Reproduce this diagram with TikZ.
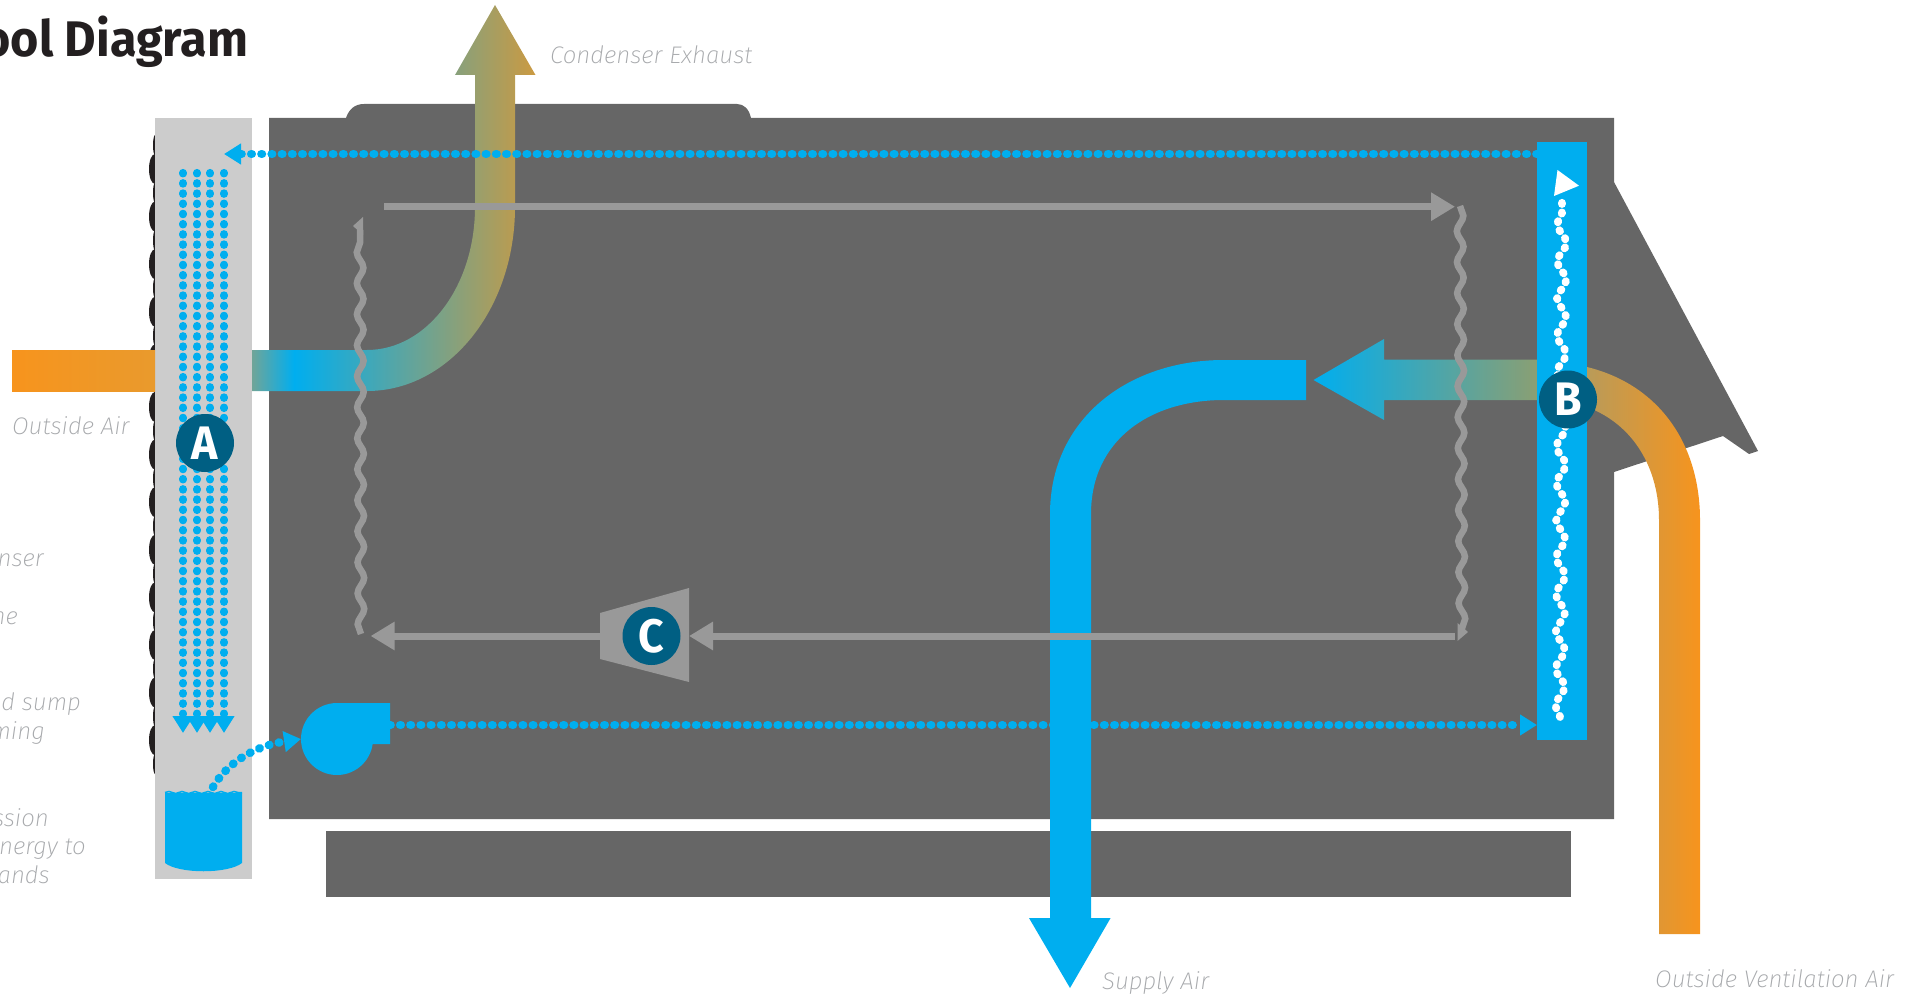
\documentclass[tikz,border=0pt]{standalone}
\usepackage{fontspec}
\setmainfont{Fira Sans}
\newfontfamily\capfont{Fira Sans ExtraLight Italic}
\newfontfamily\headfont[FakeStretch=0.97]{Fira Sans Bold}
\newfontfamily\badgefont[FakeStretch=0.95]{Fira Sans Bold}
\usepackage{tikz}
\usetikzlibrary{arrows.meta,decorations.pathmorphing}
\definecolor{unitgrey}{HTML}{666666}
\definecolor{coilgrey}{HTML}{999999}
\definecolor{padgrey}{HTML}{CCCCCC}
\definecolor{waterblue}{HTML}{00AEEF}
\definecolor{airorange}{HTML}{F7941D}
\definecolor{airorangeB}{HTML}{E99A2D}
\definecolor{badgeblue}{HTML}{005F83}
\definecolor{captiongrey}{HTML}{A7A9AC}
\definecolor{inkblack}{HTML}{231F20}
\definecolor{ductteal}{HTML}{70A598}
\definecolor{ductgold}{HTML}{CB9A42}
\definecolor{ductsage}{HTML}{8A9F73}
\definecolor{ductsand}{HTML}{B99B59}
\pgfdeclarehorizontalshading{exhaustfade}{100bp}{color(0bp)=(ductteal); color(25bp)=(ductteal); color(32.4bp)=(waterblue); color(75bp)=(ductgold); color(100bp)=(ductgold)}
\begin{document}
\begin{tikzpicture}[x=1pt,y=-1pt]
\tikzstyle{badge}=[circle,fill=badgeblue,text=white,minimum size=58pt,inner sep=0pt,font=\badgefont\fontsize{47}{47}\selectfont]
\tikzstyle{caption}=[inner sep=0pt,text=captiongrey,font=\capfont\fontsize{24}{28}\selectfont]
\tikzstyle{waterdots}=[draw=waterblue,line width=8.5pt,line cap=round,dash pattern=on 0.6pt off 9.6pt]
\tikzstyle{dropdots}=[draw=waterblue,line width=7.5pt,line cap=round,dash pattern=on 1pt off 9.2pt]
\tikzstyle{dottip}=[-{Triangle[length=17pt,width=20pt]}]
\tikzstyle{coilline}=[draw=coilgrey,line width=7pt]
\tikzstyle{cointip}=[-{Triangle[length=24pt,width=27pt]}]
\tikzstyle{coilwave}=[draw=coilgrey,line width=6.5pt,decorate,decoration={snake,amplitude=3.3pt,segment length=31pt}]
\useasboundingbox (0,0) rectangle (1920,995);

% scalloped edge behind the pad
\foreach \k in {0,...,12} {
  \fill[inkblack] (155,169+47.6*\k) ellipse (6 and 15);
  \fill[inkblack] (155,145.2+47.6*\k) ellipse (2 and 10);
}
\fill[inkblack] (155,764) ellipse (2 and 10);

% pad and unit body
\fill[padgrey] (155,118) rectangle (252,879);
\fill[unitgrey] (269,118) -- (346,118) .. controls (349,109) and (355,104) .. (364,104) -- (737,104) .. controls (744,104) and (749,109) .. (751,118) -- (1614,118) -- (1614,182) -- (1758,451) -- (1749,454) -- (1723,436) -- (1614,472) -- (1614,819) -- (269,819) -- cycle;
\fill[unitgrey] (326,831) rectangle (1571,897);

\shade[left color=airorange,right color=airorangeB] (12,350) rectangle (155,391);

% exhaust duct
\shade[shading=exhaustfade] (252,350) -- (367,350) .. controls (427,350) and (475,286) .. (475,207) -- (475,75) -- (455,75) -- (495,5) -- (535.5,75) -- (515,75) -- (515,207) .. controls (515,309) and (449,391) .. (367,391) -- (252,391) -- cycle;

% water flows
\coordinate (barTop) at (1537,154);
\coordinate (padTip) at (224,154);
\draw[waterdots,dottip] (barTop) -- (padTip);
\foreach \x in {183,197,210,224} {
  \coordinate (drop\x a) at (\x,172.7);
  \coordinate (drop\x b) at (\x,733);
  \draw[dropdots,dottip] (drop\x a) -- (drop\x b);
}
\coordinate (fanOut) at (390,725);
\coordinate (barIn) at (1537,725);
\draw[waterdots,dottip] (fanOut) -- (barIn);
\coordinate (tankOut) at (213,787);
\coordinate (fanIn) at (301,739);
\draw[waterdots,dottip] (tankOut) .. controls (228,762) and (255,746) .. (fanIn);

% sump tank
\fill[waterblue] (165,793) -- (242,793) -- (242,863) .. controls (228,874) and (179,874) .. (165,863) -- cycle;
\draw[waterblue,line width=1.5pt,decorate,decoration={snake,amplitude=1pt,segment length=13pt}] (165,792.5) -- (242,792.5);

% fan
\fill[waterblue] (337,703) -- (390,703) -- (390,744) -- (370,744) -- (337,739) -- cycle;
\fill[waterblue] (337,739) circle (36);

% supply duct
\fill[waterblue] (1306,360) -- (1224,360) .. controls (1128,360) and (1050,419) .. (1050,514) -- (1050,918) -- (1029,918) -- (1070,988) -- (1110.6,918) -- (1091,918) -- (1091,514) .. controls (1091,440) and (1150,400) .. (1224,400) -- (1306,400) -- cycle;

% return air arrow and ventilation duct
\shade[left color=waterblue,right color=ductsage] (1313.5,380) -- (1384,339) -- (1384,359.5) -- (1537,359.5) -- (1537,400) -- (1384,400) -- (1384,420) -- cycle;
\shade[left color=ductsand,right color=airorange] (1587,367) .. controls (1660,385) and (1700,445) .. (1700,520) -- (1700,934) -- (1659,934) -- (1659,520) .. controls (1659,470) and (1635,425) .. (1587,407) -- cycle;

% media bar
\fill[waterblue] (1537,142) rectangle (1587,740);
\coordinate (barLow) at (1560,717);
\coordinate (barHigh) at (1562,196);
\draw[white,line width=7.8pt,line cap=round,dash pattern=on 1.2pt off 8.4pt,decorate,decoration={snake,amplitude=4.5pt,segment length=37pt}] (barLow) -- (barHigh);
\fill[white] (1557.5,170) -- (1579,185.7) -- (1554,196) -- cycle;

% refrigerant loop
\coordinate (coilTopA) at (384,206.7);
\coordinate (coilTopB) at (1455,206.7);
\draw[coilline,cointip] (coilTopA) -- (coilTopB);
\coordinate (waveRightA) at (1460,206);
\coordinate (waveRightB) at (1462,632);
\draw[coilwave] (waveRightA) -- (waveRightB);
\fill[coilgrey] (1457.5,623) -- (1468,632) -- (1457.5,641) -- cycle;
\coordinate (coilLowA) at (1455,636);
\coordinate (compIn) at (689,636);
\draw[coilline,cointip] (coilLowA) -- (compIn);
\coordinate (compOut) at (600,636);
\coordinate (coilLowB) at (370.6,636);
\draw[coilline,cointip] (compOut) -- (coilLowB);
\fill[coilgrey] (600,613) -- (689,588) -- (689,682) -- (600,659) -- cycle;
\coordinate (waveLeftA) at (361,634);
\coordinate (waveLeftB) at (360,230);
\draw[coilwave] (waveLeftA) -- (waveLeftB);
\fill[coilgrey] (363,217) -- (353,226) -- (363,235) -- cycle;

% badges
\node[badge] (padBadge) at (205,443) {A};
\node[badge] (barBadge) at (1568,399.5) {B};
\node[badge] (compBadge) at (651.5,636) {C};

% captions
\node[inner sep=0pt,anchor=base east,text=inkblack,font=\headfont\fontsize{50}{50}\selectfont] (title) at (248.5,57) {ool Diagram};
\node[caption,anchor=base west] (capOutside) at (12,434) {Outside Air};
\node[caption,anchor=base west] (capExhaust) at (550,64) {Condenser Exhaust};
\node[caption,anchor=base west] (capSupply) at (1102,989) {Supply Air};
\node[caption,anchor=base west] (capVent) at (1655,987) {Outside Ventilation Air};
\node[caption,anchor=base east] (noteA) at (44,566) {nser};
\node[caption,anchor=base east] (noteB) at (18,624) {ne};
\node[caption,anchor=base east] (noteC) at (81,710) {ld sump};
\node[caption,anchor=base east] (noteD) at (45,739) {ming};
\node[caption,anchor=base east] (noteE) at (49,826) {ssion};
\node[caption,anchor=base east] (noteF) at (86,854) {nergy to};
\node[caption,anchor=base east] (noteG) at (50,883) {ands};
\end{tikzpicture}
\end{document}
